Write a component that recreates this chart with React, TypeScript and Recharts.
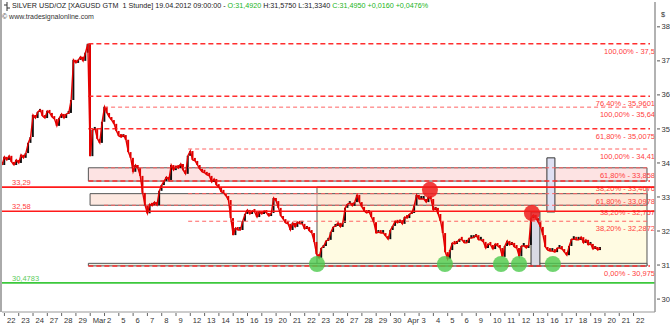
import React from 'react';
import {
  ComposedChart,
  Line,
  Bar,
  Cell,
  XAxis,
  YAxis,
  ReferenceLine,
  ReferenceArea,
  ReferenceDot,
} from 'recharts';

// trading days on the axis, Feb 22 .. Apr 22 (index = day position)
const dayLabels = [
  '22', '23', '24', '27', '28', '29', 'Mar', '2', '5', '6', '7', '8', '9',
  '12', '13', '14', '15', '16', '19', '20', '21', '22', '23', '26', '27', '28', '29', '30',
  'Apr', '3', '4', '5', '6', '9', '10', '11', '12', '13', '16', '17', '18', '19', '20', '21', '22',
];
const dayTicks = dayLabels.map((_, i) => i);
const priceTicks = [30, 31, 32, 33, 34, 35, 36, 37, 38];

// 4-hour closes, six per trading day, one array per week
const weekFeb20 = [
  33.94, 34.18, 34.09, 34.21, 34.03, 33.94, 34.09, 34.0, 34.24, 34.15, 34.29, 34.59, 34.76,
  35.41, 35.32, 35.5, 35.56, 35.38, 35.32,
];
const weekFeb27 = [
  35.53, 35.47, 35.35, 35.29, 35.09, 35.32, 35.44, 35.32, 35.44, 35.47, 35.85, 37.03,
  36.94, 37.03, 37.12, 37.0, 37.24, 37.5, 34.2, 34.97, 35.0, 34.71, 34.59, 35.21,
  35.65, 35.47, 35.35, 35.26, 35.15, 34.94,
];
const weekMar05 = [
  34.79, 34.76, 34.82, 34.68, 34.32, 34.15, 33.74, 33.94, 33.85, 33.62, 33.12, 32.76,
  32.52, 32.79, 32.74, 32.85, 32.76, 33.18, 33.35, 33.47, 33.59, 33.5, 33.94, 33.79,
  33.91, 33.85, 33.97, 33.79, 33.68, 34.21,
];
const weekMar12 = [
  34.35, 34.09, 34.06, 33.94, 33.82, 33.74, 33.71, 33.65, 33.62, 33.44, 33.53, 33.35,
  33.29, 33.15, 33.12, 33.03, 32.91, 32.38, 31.88, 32.09, 32.03, 32.03, 32.29, 32.5,
  32.62, 32.5, 32.59, 32.56, 32.41, 32.56,
];
const weekMar19 = [
  32.5, 32.59, 32.53, 32.44, 32.53, 32.97, 32.88, 32.68, 32.44, 32.35, 32.24, 32.21,
  32.03, 32.24, 32.12, 32.26, 32.21, 32.21, 32.06, 32.12, 32.0, 31.94, 31.68, 31.32,
  31.21, 31.5, 31.56, 31.71, 31.74, 31.97,
];
const weekMar26 = [
  32.12, 32.15, 32.24, 32.12, 32.24, 32.68, 32.79, 32.82, 32.74, 32.85, 33.06, 32.85,
  32.71, 32.59, 32.53, 32.56, 32.41, 32.26, 31.94, 31.97, 31.94, 31.94, 31.85, 31.76,
  32.03, 32.15, 32.29, 32.24, 32.32, 32.21,
];
const weekApr02 = [
  32.41, 32.38, 32.5, 32.53, 32.76, 33.06, 32.94, 32.94, 32.94, 32.85, 33.0, 32.94,
  32.62, 32.68, 32.5, 32.29, 31.94, 31.38, 31.18, 31.44, 31.65, 31.62, 31.68, 31.76,
  31.74, 31.65, 31.65, 31.79, 31.79, 31.82,
];
const weekApr09 = [
  31.88, 31.74, 31.74, 31.68, 31.5, 31.62, 31.59, 31.47, 31.62, 31.56, 31.5, 31.24,
  31.56, 31.71, 31.59, 31.65, 31.53, 31.5, 31.26, 31.56, 31.56, 31.5, 31.59, 32.38,
  32.47, 32.38, 32.26, 32.12, 31.88, 31.53,
];
const weekApr16 = [
  31.44, 31.41, 31.41, 31.38, 31.5, 31.5, 31.47, 31.38, 31.29, 31.56, 31.76, 31.76,
  31.74, 31.74, 31.82, 31.65, 31.74, 31.59, 31.62, 31.47, 31.53, 31.44, 31.5,
];
const weeks = [weekFeb20, weekFeb27, weekMar05, weekMar12, weekMar19, weekMar26, weekApr02, weekApr09, weekApr16];
const weekStarts = [-1 / 6, 3, 8, 13, 18, 23, 28, 33, 38];

// fibonacci levels drawn on the chart
const fibLevels = [37.5, 35.9601, 35.64, 35.0075, 34.41, 33.858, 33.4676, 33.0978, 32.757, 32.2872, 30.975];
const fibLabels = [
  '100,00% - 37,5', '76,40% - 35,9601', '100,00% - 35,64', '61,80% - 35,0075', '100,00% - 34,41',
  '61,80% - 33,858', '38,20% - 33,4676', '61,80% - 33,0978', '38,20% - 32,757', '38,20% - 32,2872',
  '0,00% - 30,975',
];
const fibStarts = [5.87, 5.87, 6.97, 5.87, 12.85, 6.97, 5.87, 12.85, 6.97, 12.85, 5.87];
const fibMain = [true, true, false, true, false, false, true, false, false, false, true];
const fibEnd = 45.15;

const resistanceLevels = [33.29, 32.58];
const resistanceLabels = ['33,29', '32,58'];
const supportLevel = 30.4783;

const redMarks = [
  { t: 29.76, p: 33.21 },
  { t: 36.89, p: 32.53 },
];
const greenMarks = [21.86, 30.81, 34.73, 35.99, 38.36];
const greenMarkPrice = 31.03;

const FONT = '"Liberation Sans", Arial, sans-serif';

// each bar runs from the previous close to this close
const priceData: { t: number; p: number; body: number[]; up: boolean }[] = [];
weeks.forEach((w, wi) => {
  w.forEach((p, i) => {
    const prev = priceData.length ? priceData[priceData.length - 1].p : p;
    priceData.push({
      t: weekStarts[wi] + i / 6,
      p,
      body: [Math.min(prev, p), Math.max(prev, p)],
      up: p >= prev,
    });
  });
});

const DayTick = ({ x, y, payload }: any) => (
  <g>
    <line x1={x} x2={x} y1={y + 1} y2={y + 4} stroke="#666" />
    <text x={x + 2.5} y={y + 11} fontSize={7.6} fill="#333" fontFamily={FONT}>
      {dayLabels[payload.value]}
    </text>
  </g>
);

const PriceTick = ({ x, y, payload }: any) => (
  <g>
    <line x1={x + 2} x2={x + 5} y1={y} y2={y} stroke="#555" />
    <text x={x + 6.5} y={y + 2.6} fontSize={7.6} fill="#333" fontFamily={FONT}>
      {payload.value}
    </text>
  </g>
);

const fibLabel = (text: string) => (props: any) => {
  const vb = props.viewBox || {};
  return (
    <text
      x={(vb.x ?? 0) + (vb.width ?? 0) + 5}
      y={(vb.y ?? 0) + 10}
      textAnchor="end"
      fontSize={7.5}
      fill="#ff4040"
      fontFamily={FONT}
    >
      {text}
    </text>
  );
};

const leftLabel = (text: string, color: string) => (props: any) => {
  const vb = props.viewBox || {};
  return (
    <text x={(vb.x ?? 0) + 10} y={(vb.y ?? 0) - 2} fontSize={7.5} fill={color} fontFamily={FONT}>
      {text}
    </text>
  );
};

export default function App() {
  return (
    <div style={{ position: 'absolute', left: 0, top: 0, width: 670, height: 326, background: '#fff', fontFamily: FONT }}>
      <ComposedChart width={670} height={326} data={priceData} margin={{ top: 2, right: 0, bottom: 0, left: 2 }}>
        <XAxis
          type="number"
          dataKey="t"
          domain={[-0.17, 45.5]}
          ticks={dayTicks}
          interval={0}
          tick={<DayTick />}
          tickLine={false}
          tickSize={0}
          tickMargin={0}
          height={14}
          axisLine={{ stroke: '#999' }}
          allowDataOverflow
        />
        <YAxis
          orientation="right"
          domain={[29.62, 38.73]}
          ticks={priceTicks}
          tick={<PriceTick />}
          tickLine={false}
          tickSize={0}
          tickMargin={0}
          width={15}
          axisLine={{ stroke: '#999', strokeWidth: 1.5 }}
          allowDataOverflow
        />

        <ReferenceArea x1={21.86} x2={44.94} y1={30.975} y2={33.29} fill="#fffbe2" fillOpacity={1} stroke="#555" strokeWidth={1} />
        <ReferenceArea x1={5.87} x2={44.94} y1={33.4676} y2={33.858} fill="#fde3e3" fillOpacity={1} stroke="#555" strokeWidth={1} />
        <ReferenceArea x1={5.99} x2={44.94} y1={32.757} y2={33.0978} fill="#fcd8cc" fillOpacity={0.6} stroke="#555" strokeWidth={1} />
        <ReferenceArea x1={5.87} x2={44.94} y1={30.975} y2={31.05} fill="#eaf2e4" fillOpacity={1} stroke="#555" strokeWidth={1} />
        <ReferenceArea x1={36.83} x2={37.45} y1={30.975} y2={32.56} fill="#d9dae4" fillOpacity={1} stroke="#333" strokeWidth={1} />
        <ReferenceArea x1={37.94} x2={38.5} y1={32.56} y2={34.15} fill="#dfe0f3" fillOpacity={1} stroke="#333" strokeWidth={1} />

        {fibLevels.map((lv, i) => (
          <ReferenceLine
            key={`fib-${i}`}
            segment={[{ x: fibStarts[i], y: lv }, { x: fibEnd, y: lv }]}
            stroke={fibMain[i] ? '#ff2e2e' : '#ff6262'}
            strokeWidth={fibMain[i] ? 1.5 : 1}
            strokeDasharray={fibMain[i] ? '5 3' : '4 3'}
            label={fibLabel(fibLabels[i])}
          />
        ))}

        {resistanceLevels.map((lv, i) => (
          <ReferenceLine key={`res-${i}`} y={lv} stroke="#ff1a1a" strokeWidth={1.6} label={leftLabel(resistanceLabels[i], '#ff4040')} />
        ))}
        <ReferenceLine y={supportLevel} stroke="#3cc83c" strokeWidth={1.8} label={leftLabel('30,4783', '#5ccc5c')} />

        <Line
          type="linear"
          dataKey="p"
          stroke="#e60000"
          strokeWidth={1.4}
          dot={false}
          isAnimationActive={false}
        />
        <Bar dataKey="body" barSize={2} minPointSize={3} isAnimationActive={false}>
          {priceData.map((d, i) => (
            <Cell key={`c-${i}`} fill={d.up ? '#111' : '#e00000'} />
          ))}
        </Bar>

        {redMarks.map((m, i) => (
          <ReferenceDot key={`red-${i}`} x={m.t} y={m.p} r={8} fill="#ee1c1c" fillOpacity={0.85} stroke="none" />
        ))}
        {greenMarks.map((t, i) => (
          <ReferenceDot key={`green-${i}`} x={t} y={greenMarkPrice} r={8} fill="#4cc94c" fillOpacity={0.8} stroke="none" />
        ))}
      </ComposedChart>

      <div style={{ position: 'absolute', left: 0, top: 0, width: 2, height: 312, background: '#aaa' }} />
      <svg style={{ position: 'absolute', left: 3, top: 2 }} width={8} height={9}>
        <line x1={4} x2={4} y1={0} y2={9} stroke="#333" />
        <line x1={1} x2={4} y1={3} y2={3} stroke="#333" />
        <line x1={4} x2={7} y1={6} y2={6} stroke="#333" />
      </svg>
      <div style={{ position: 'absolute', left: 12, top: 1, fontSize: 7.2, color: '#222', whiteSpace: 'pre', lineHeight: '9px' }}>
        {'SILVER USD/OZ [XAGUSD GTM  1 Stunde] 19.04.2012 09:00:00 - '}
        <span style={{ color: '#22b422' }}>O:31,4920</span>
        {' H:31,5750 L:31,3340 '}
        <span style={{ color: '#22b422' }}>C:31,4950 +0,0160 +0,0476%</span>
      </div>
      <div style={{ position: 'absolute', left: 2, top: 12, fontSize: 7, color: '#333', whiteSpace: 'pre', lineHeight: '9px' }}>
        {'© www.tradesignalonline.com'}
      </div>
      <div style={{ position: 'absolute', left: 661, top: 10, fontSize: 7.4, color: '#333', lineHeight: '9px' }}>$</div>
    </div>
  );
}
